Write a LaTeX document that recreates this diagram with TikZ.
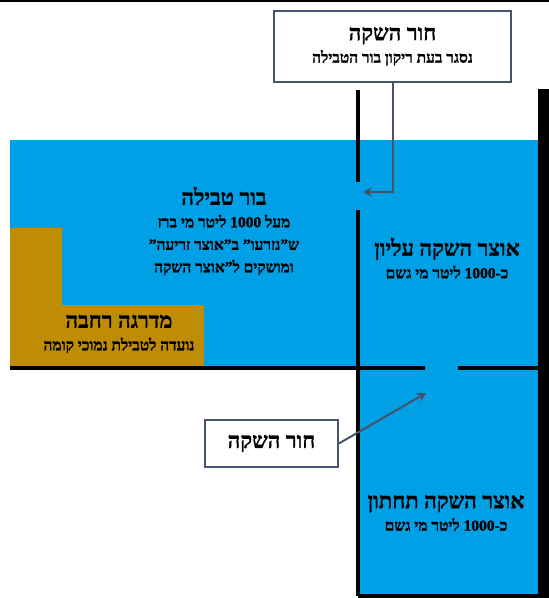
\documentclass[tikz,border=0pt]{standalone}
\usepackage{fontspec}
\usetikzlibrary{positioning,arrows.meta}
\newfontfamily\hebfont[Script=Hebrew, BoldFeatures={FakeBold=1.2}]{Liberation Serif}
\TeXXeTstate=1
\definecolor{waterblue}{RGB}{0,160,230}
\definecolor{stepgold}{RGB}{191,140,6}
\definecolor{calloutblue}{RGB}{68,84,106}
\newcommand{\rl}[1]{\beginR #1\endR}
\newcommand{\bigheb}{\hebfont\bfseries\fontsize{22}{26}\selectfont}
\newcommand{\smallheb}{\hebfont\bfseries\fontsize{15.5}{22.5}\selectfont}

\begin{document}
\begin{tikzpicture}[x=1pt, y=-1pt, >=stealth,
    wall/.style={line width=4pt, black},
    tanktext/.style={align=center, font=\smallheb, inner sep=0pt},
    callout/.style={draw=calloutblue, line width=1.8pt, fill=white, align=center, font=\smallheb},
    pointer/.style={calloutblue, line width=2pt, -{Stealth[length=9pt,width=10pt]}}]

    \useasboundingbox (0,0) rectangle (549,598);

    \fill [waterblue] (10,140) rectangle (538,368);
    \fill [waterblue] (358,368) rectangle (538,596);
    \fill [stepgold] (10,228) -- (62,228) -- (62,305) -- (204,305) -- (204,368) -- (10,368) -- cycle;

    \draw [line width=1.5pt] (0,0.75) -- (549,0.75);
    \fill (538,89) rectangle (549,598);
    \foreach \a/\b in {90/182, 210/596}
      \draw [wall] (358,\a) -- (358,\b);
    \foreach \a/\b in {10/425, 458/538}
      \draw [wall] (\a,368) -- (\b,368);
    \draw [wall] (358,596) -- (538,596);

    \node [tanktext] (pool) at (224,231)
      {{\bigheb\rl{בור טבילה}}\\ \rl{מעל 1000 ליטר מי ברז}\\ \rl{ש”נזרעו” ב”אוצר זריעה”}\\ \rl{ומושקים ל”אוצר השקה}};
    \node [tanktext] (step) at (119,334)
      {{\bigheb\rl{מדרגה רחבה}}\\ \rl{נועדה לטבילת נמוכי קומה}};
    \node [tanktext] (upper) at (447,258)
      {{\bigheb\rl{אוצר השקה עליון}}\\ \rl{כ-1000 ליטר מי גשם}};
    \node [tanktext] (lower) at (446,513)
      {{\bigheb\rl{אוצר השקה תחתון}}\\ \rl{כ-1000 ליטר מי גשם}};

    \node [callout, minimum width=237pt, minimum height=71pt] (topbox) at (392.5,46.5)
      {{\bigheb\rl{חור השקה}}\\ \rl{נסגר בעת ריקון בור הטבילה}};
    \node [callout, font=\bigheb, minimum width=133pt, minimum height=47pt] (lowbox) at (271.5,443.5)
      {\rl{חור השקה}};

    \coordinate (holetop) at (363,192);
    \coordinate (holelow) at (426,393);
    \draw [pointer] (topbox.south) |- (holetop);
    \draw [pointer] (lowbox.east) -- (holelow);

\end{tikzpicture}
\end{document}
